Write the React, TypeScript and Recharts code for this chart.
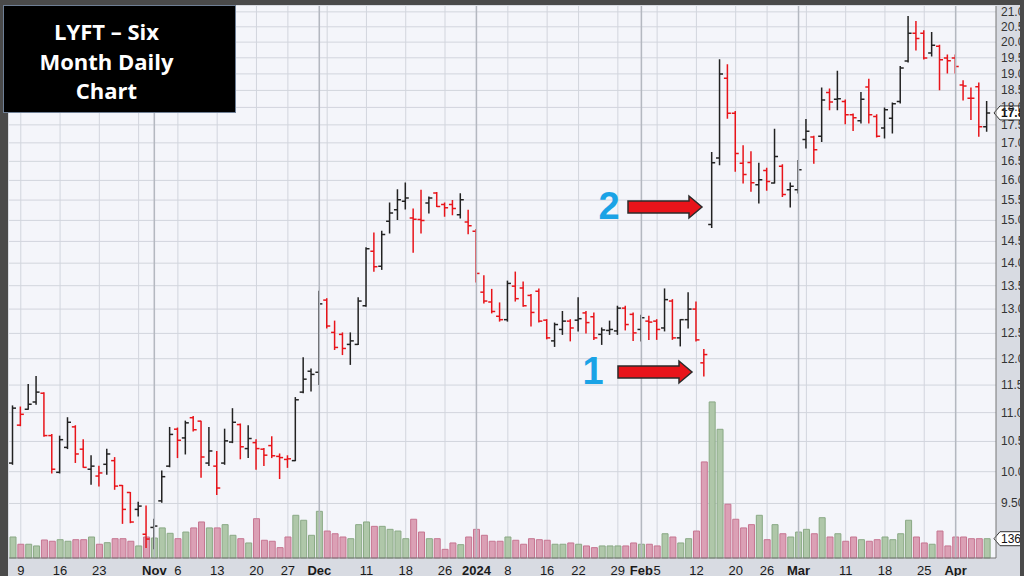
import React from "react";
import { ComposedChart, Bar, XAxis, YAxis, CartesianGrid, ReferenceLine, Cell } from "recharts";

// trading days shown, by month (Oct 2023 – Apr 2024)
const octDays = [6, 9, 10, 11, 12, 13, 16, 17, 18, 19, 20, 23, 24, 25, 26, 27, 30, 31];
const novDays = [1, 2, 3, 6, 7, 8, 9, 10, 13, 14, 15, 16, 17, 20, 21, 22, 24, 27, 28, 29, 30];
const decDays = [1, 4, 5, 6, 7, 8, 11, 12, 13, 14, 15, 18, 19, 20, 21, 22, 26, 27, 28, 29];
const janDays = [2, 3, 4, 5, 8, 9, 10, 11, 12, 16, 17, 18, 19, 22, 23, 24, 25, 26, 29, 30, 31];
const febDays = [1, 2, 5, 6, 7, 8, 9, 12, 13, 14, 15, 16, 20, 21, 22, 23, 26, 27, 28, 29];
const marDays = [1, 4, 5, 6, 7, 8, 11, 12, 13, 14, 15, 18, 19, 20, 21, 22, 25, 26, 27, 28];
const aprDays = [1, 2, 3, 4, 5];

const opens = [
  10.14, 10.78, 11.06, 11.19, 11.35, 10.6, 9.99, 10.4, 10.75, 10.37, 10.04, 9.93, 10.12, 10.18, 9.78, 9.67, 9.41, 9.04,
  9.14, 9.54, 10.09, 10.71, 10.56, 10.91, 10.85, 10.14, 10.09, 10.14, 10.49, 10.79, 10.38, 10.48, 10.37, 10.43, 10.25, 10.2, 10.18, 11.37, 11.76,
  11.74, 13.19, 12.52, 12.48, 12.28, 12.28, 13.07, 14.27, 13.93, 14.98, 15.26, 15.47, 15.06, 15.02, 15.43, 15.68, 15.39, 15.39, 15.14, 14.96,
  14.74, 13.36, 13.15, 12.85, 12.78, 13.49, 13.45, 13.29, 13.38, 12.77, 12.35, 12.58, 12.75, 12.77, 12.92, 12.84, 12.48, 12.56, 12.55, 13.02, 12.89,
  12.58, 12.75, 12.75, 12.61, 13.17, 12.41, 12.78, 13.0, 11.92, 14.9, 16.59, 18.87, 17.83, 16.45, 16.47, 15.89, 16.26, 15.93, 16.37, 15.76,
  15.76, 17.09, 17.16, 17.18, 18.44, 18.24, 18.17, 17.79, 17.62, 18.6, 17.74, 17.41, 17.69, 18.17, 19.4, 20.29, 20.29, 19.65, 19.87, 19.49,
  19.49, 18.66, 18.27, 18.61, 17.45,
];
const highs = [
  11.12, 11.1, 11.51, 11.66, 11.36, 10.62, 10.59, 10.91, 10.77, 10.53, 10.26, 10.09, 10.37, 10.23, 9.78, 9.67, 9.52, 9.46,
  9.26, 10.01, 10.74, 10.73, 10.85, 10.93, 10.85, 10.74, 10.33, 10.71, 11.07, 10.8, 10.77, 10.53, 10.38, 10.58, 10.29, 10.26, 11.27, 12.02, 11.8,
  13.38, 13.22, 12.75, 12.51, 12.51, 13.24, 14.35, 14.7, 14.74, 15.43, 15.76, 15.93, 15.28, 15.75, 15.58, 15.69, 15.43, 15.49, 15.66, 15.25,
  14.78, 13.72, 13.42, 13.13, 13.6, 13.8, 13.58, 13.31, 13.43, 12.78, 12.71, 12.95, 12.78, 13.24, 12.95, 12.92, 12.61, 12.75, 13.06, 13.06, 12.92,
  12.87, 12.85, 12.78, 13.43, 13.2, 12.78, 13.35, 13.15, 12.18, 16.74, 19.44, 19.28, 17.88, 16.92, 16.76, 16.45, 16.32, 17.38, 16.41, 15.93,
  16.52, 17.65, 17.18, 18.57, 18.54, 19.08, 18.22, 17.81, 18.44, 18.84, 17.79, 17.98, 18.13, 19.23, 20.84, 20.68, 20.37, 20.31, 19.9, 19.59,
  19.59, 18.79, 18.57, 18.72, 18.17,
];
const lows = [
  10.12, 10.77, 11.06, 11.15, 10.59, 9.98, 9.98, 10.38, 10.15, 10.07, 9.8, 9.77, 9.96, 9.72, 9.2, 9.21, 9.31, 8.85,
  8.83, 9.52, 10.08, 10.23, 10.29, 10.68, 9.91, 10.1, 9.64, 10.12, 10.48, 10.21, 10.23, 10.04, 10.1, 10.23, 9.89, 10.07, 10.18, 11.36, 11.39,
  11.51, 12.61, 12.18, 12.08, 11.89, 12.28, 13.06, 13.82, 13.86, 14.7, 15.02, 15.28, 14.25, 14.7, 15.18, 15.34, 15.1, 15.14, 15.06, 14.68,
  13.58, 13.13, 12.92, 12.75, 12.75, 13.17, 13.06, 12.65, 12.73, 12.39, 12.24, 12.48, 12.35, 12.55, 12.51, 12.38, 12.28, 12.48, 12.48, 12.57, 12.36,
  12.35, 12.38, 12.38, 12.55, 12.38, 12.25, 12.61, 12.35, 11.67, 14.83, 16.41, 17.69, 16.24, 15.93, 15.72, 15.43, 15.75, 15.93, 15.59, 15.33,
  15.68, 16.86, 16.45, 17.04, 17.93, 17.93, 17.53, 17.34, 17.55, 17.55, 17.16, 17.13, 17.27, 18.13, 19.37, 19.75, 19.46, 19.56, 18.52, 19.03,
  19.03, 18.22, 17.65, 17.18, 17.32,
];
const closes = [
  11.08, 10.97, 11.15, 11.37, 10.6, 10.04, 10.53, 10.83, 10.29, 10.07, 10.09, 9.98, 10.29, 9.77, 9.41, 9.22, 9.46, 8.97,
  9.16, 9.92, 10.62, 10.52, 10.82, 10.7, 10.24, 10.34, 9.74, 10.51, 10.83, 10.41, 10.55, 10.38, 10.27, 10.26, 10.23, 10.21, 11.23, 11.61, 11.7,
  13.11, 12.65, 12.22, 12.2, 12.35, 13.17, 14.33, 13.92, 14.66, 15.18, 15.51, 15.55, 15.03, 15.0, 15.55, 15.34, 15.31, 15.29, 15.51, 14.87,
  13.77, 13.17, 12.95, 12.78, 13.55, 13.22, 13.07, 12.93, 12.75, 12.41, 12.68, 12.75, 12.61, 12.8, 12.72, 12.41, 12.57, 12.58, 13.02, 12.68, 12.51,
  12.82, 12.73, 12.58, 13.2, 12.41, 12.78, 13.0, 12.37, 12.08, 16.46, 19.0, 17.83, 16.71, 16.15, 15.94, 16.02, 15.97, 16.63, 15.64, 15.85,
  16.28, 17.32, 16.81, 18.22, 18.16, 18.25, 17.79, 17.7, 18.24, 17.79, 17.18, 17.93, 18.11, 19.18, 20.29, 20.12, 19.49, 19.9, 19.44, 19.41,
  19.23, 18.63, 18.27, 17.45, 17.84,
];
// volume, in 100k shares
const volumes = [
  148, 97, 97, 85, 127, 118, 129, 118, 129, 129, 148, 97, 108, 136, 136, 118, 85, 148,
  141, 212, 174, 136, 183, 212, 254, 212, 212, 235, 160, 136, 106, 277, 125, 118, 73, 148, 301, 266, 160,
  329, 190, 171, 148, 136, 235, 254, 223, 223, 202, 190, 136, 273, 183, 136, 136, 61, 106, 94, 148,
  202, 160, 118, 118, 148, 125, 97, 136, 129, 125, 97, 97, 106, 97, 85, 73, 85, 85, 85, 85, 106,
  97, 97, 85, 171, 148, 106, 136, 190, 677, 1100, 907, 379, 273, 212, 235, 301, 129, 235, 171, 148,
  183, 202, 171, 284, 148, 171, 118, 148, 129, 118, 129, 148, 129, 171, 266, 148, 106, 97, 190, 85,
  148, 148, 136, 136, 136,
];

const priceTicks = [9.5, 10, 10.5, 11, 11.5, 12, 12.5, 13, 13.5, 14, 14.5, 15, 15.5, 16, 16.5, 17, 17.5, 18, 18.5, 19, 19.5, 20, 20.5, 21];
const tickKeys = [
  "10-09", "10-16", "10-23", "10-30", "11-01", "11-06", "11-13", "11-20", "11-27", "12-01", "12-04", "12-11", "12-18", "12-26",
  "01-02", "01-08", "01-16", "01-22", "01-29", "02-01", "02-05", "02-12", "02-20", "02-26", "03-01", "03-04", "03-11", "03-18", "03-25", "04-01",
];
const tickLabels = [
  "9", "16", "23", "", "Nov", "6", "13", "20", "27", "Dec", "", "11", "18", "26",
  "2024", "8", "16", "22", "29", "Feb", "5", "12", "20", "26", "Mar", "", "11", "18", "25", "Apr",
];
const monthKeys = ["11-01", "12-01", "01-02", "02-01", "03-01", "04-01"];

const pad = (n: number) => (n < 10 ? "0" + n : "" + n);
const keys = [
  ...octDays.map((d) => "10-" + pad(d)),
  ...novDays.map((d) => "11-" + pad(d)),
  ...decDays.map((d) => "12-" + pad(d)),
  ...janDays.map((d) => "01-" + pad(d)),
  ...febDays.map((d) => "02-" + pad(d)),
  ...marDays.map((d) => "03-" + pad(d)),
  ...aprDays.map((d) => "04-" + pad(d)),
];

const rows = keys.map((k, i) => ({
  k,
  o: opens[i],
  h: highs[i],
  l: lows[i],
  c: closes[i],
  hl: [lows[i], highs[i]],
  v: volumes[i],
  up: i === 0 || closes[i] >= closes[i - 1],
}));

const FONT = "Arial, 'Liberation Sans', sans-serif";

function OhlcBar(props: any) {
  const { x, y, width, height, payload } = props;
  if (x == null || y == null || !payload) return null;
  const top = Math.min(y, y + height);
  const bottom = Math.max(y, y + height);
  const cx = x + width / 2;
  const span = Math.log(payload.h) - Math.log(payload.l);
  const at = (v: number) => (span > 0 ? top + ((bottom - top) * (Math.log(payload.h) - Math.log(v))) / span : top);
  const color = payload.up ? "#222222" : "#e8141a";
  return (
    <g stroke={color} strokeWidth={1.5}>
      <line x1={cx} x2={cx} y1={top - 0.5} y2={bottom + 0.5} />
      <line x1={cx - 3.5} x2={cx} y1={at(payload.o)} y2={at(payload.o)} />
      <line x1={cx} x2={cx + 3.5} y1={at(payload.c)} y2={at(payload.c)} />
    </g>
  );
}

function DateTick({ x, y, payload }: any) {
  const idx = tickKeys.indexOf(payload.value);
  const bold = monthKeys.includes(payload.value);
  return (
    <text x={x} y={y + 9} textAnchor="middle" fontSize={13} fontWeight={bold ? 700 : 400} fill="#1a1a1a" fontFamily={FONT}>
      {tickLabels[idx] ?? ""}
    </text>
  );
}

function PriceTick({ x, y, payload }: any) {
  return (
    <text x={x} y={y + 4} textAnchor="start" fontSize={12} fill="#333" fontFamily={FONT}>
      {Number(payload.value).toFixed(2)}
    </text>
  );
}

function Tag({ viewBox, text, bold }: any) {
  if (!viewBox) return null;
  const x0 = viewBox.x + viewBox.width - 2;
  const yc = viewBox.y;
  return (
    <g>
      <polygon
        points={`${x0},${yc} ${x0 + 6},${yc - 7} ${x0 + 40},${yc - 7} ${x0 + 40},${yc + 7} ${x0 + 6},${yc + 7}`}
        fill="#ffffff"
        stroke="#333"
        strokeWidth={1}
      />
      <text x={x0 + 7} y={yc + 4.5} fontSize={12} fontWeight={bold ? 700 : 400} fill="#111" fontFamily={FONT}>
        {text}
      </text>
    </g>
  );
}

function Arrow({ x1, x2, yc }: { x1: number; x2: number; yc: number }) {
  const head = 13;
  const pts = [
    [x1, yc - 6], [x2 - head, yc - 6], [x2 - head, yc - 11], [x2, yc],
    [x2 - head, yc + 11], [x2 - head, yc + 6], [x1, yc + 6],
  ];
  return <polygon points={pts.map((p) => p.join(",")).join(" ")} fill="#e8141a" stroke="#2b2b2b" strokeWidth={1.5} />;
}

export default function App() {
  const last = rows[rows.length - 1];
  return (
    <div style={{ position: "absolute", left: 0, top: 0, width: 1024, height: 576, background: "#4a4a4a", overflow: "hidden" }}>
      <div style={{ position: "absolute", left: 8, top: 5, width: 1012, height: 571, background: "#d8dbe2" }} />
      <div style={{ position: "absolute", left: 0, top: 0, width: 1020, height: 576, overflow: "hidden" }}>
        <ComposedChart width={1020} height={576} data={rows} margin={{ top: 6, right: 0, bottom: 0, left: 9 }}>
          <CartesianGrid xAxisId="main" yAxisId="p" syncWithTicks stroke="#d2d5dd" fill="#f4f5fa" />
          {monthKeys.map((k) => (
            <ReferenceLine key={"m" + k} xAxisId="main" yAxisId="p" x={k} stroke="#b4b8c0" strokeWidth={1.5} />
          ))}
          <XAxis
            xAxisId="main"
            dataKey="k"
            ticks={tickKeys}
            interval={0}
            tick={<DateTick />}
            tickLine={false}
            tickSize={6}
            tickMargin={2}
            height={18}
            axisLine={{ stroke: "#777" }}
            padding={{ left: 0, right: 5 }}
          />
          <XAxis xAxisId="vol" dataKey="k" hide padding={{ left: 0, right: 5 }} />
          <YAxis
            yAxisId="p"
            orientation="right"
            scale="log"
            domain={[8.7, 21.2]}
            allowDataOverflow
            ticks={priceTicks}
            interval={0}
            width={24}
            tickLine={false}
            tickSize={0}
            tickMargin={5}
            tick={<PriceTick />}
            axisLine={{ stroke: "#777" }}
          />
          <YAxis yAxisId="v" hide domain={[0, 3890]} />
          <Bar xAxisId="vol" yAxisId="v" dataKey="v" barSize={6} isAnimationActive={false}>
            {rows.map((r) => (
              <Cell key={r.k} fill={r.up ? "#afc7a9" : "#dba0b5"} stroke={r.up ? "#8aa985" : "#c67591"} />
            ))}
          </Bar>
          <Bar xAxisId="main" yAxisId="p" dataKey="hl" barSize={7} shape={<OhlcBar />} isAnimationActive={false} />
          <ReferenceLine xAxisId="main" yAxisId="p" y={last.c} stroke="none" label={<Tag text={last.c.toFixed(2)} bold />} />
          <ReferenceLine xAxisId="vol" yAxisId="v" y={last.v} stroke="none" label={<Tag text={String(last.v)} />} />
        </ComposedChart>
      </div>

      <div
        style={{
          position: "absolute", left: 3, top: 5, width: 233, height: 108, background: "#000",
          boxSizing: "border-box", border: "1px solid #6f7f95", color: "#fff", fontFamily: "'Open Sans', Lato, sans-serif",
          fontWeight: 700, fontSize: 22, lineHeight: "29.5px", textAlign: "center", paddingTop: 11, paddingRight: 26,
        }}
      >
        <div>LYFT – Six</div>
        <div>Month Daily</div>
        <div>Chart</div>
      </div>

      <svg width={1024} height={576} style={{ position: "absolute", left: 0, top: 0, pointerEvents: "none" }}>
        <text x={609} y={219} textAnchor="middle" fontSize={38} fontWeight={700} fill="#1aa3e6" fontFamily={FONT}>2</text>
        <Arrow x1={628} x2={702} yc={207} />
        <text x={593} y={384} textAnchor="middle" fontSize={38} fontWeight={700} fill="#1aa3e6" fontFamily={FONT}>1</text>
        <Arrow x1={618} x2={692} yc={372} />
      </svg>
    </div>
  );
}
